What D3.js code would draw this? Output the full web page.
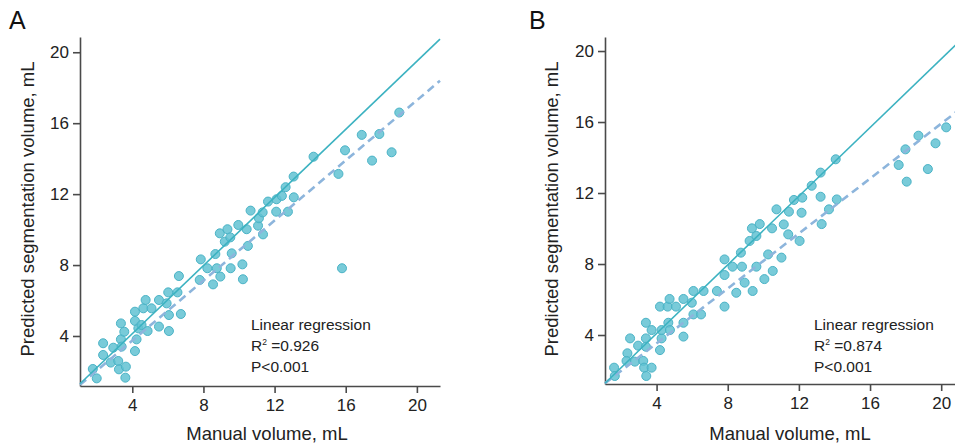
<!DOCTYPE html>
<html>
<head>
<meta charset="utf-8">
<script src="https://cdn.jsdelivr.net/npm/d3@7"></script>
<style>
  body { margin: 0; background: #fff; }
  text { font-family: "Liberation Sans", Arial, sans-serif; }
</style>
</head>
<body>
<div id="chart"></div>
<script>
// panel A: manual vs predicted volume (mL)
var manualA = [1.78, 2.00, 2.36, 2.36, 2.79, 2.93, 3.21, 3.25, 3.36, 3.36, 3.55, 3.64, 3.61, 3.40,
  4.15, 4.15, 4.15, 4.24, 4.34, 4.52, 4.62, 4.75, 4.86, 5.08, 5.50, 5.50, 5.93, 6.02, 6.06, 6.06,
  6.54, 6.62, 6.73, 7.79, 7.85, 8.22, 8.54, 8.67, 8.75, 8.92, 8.95, 9.20, 9.35, 9.51, 9.59, 9.53,
  9.96, 10.19, 10.22, 10.43, 10.50, 10.65, 11.07, 11.12, 11.33, 11.35, 11.63, 12.09, 12.11, 12.41,
  12.62, 12.75, 13.07, 13.08, 14.19, 15.59, 15.79, 15.96, 16.90, 17.48, 17.89, 18.58, 19.01];
var predA = [2.14, 1.61, 3.59, 2.93, 2.50, 3.34, 2.59, 2.12, 4.71, 3.81, 4.24, 2.27, 1.65, 3.40,
  3.15, 5.37, 4.85, 3.81, 4.43, 4.62, 5.56, 6.03, 4.28, 5.56, 6.03, 4.53, 5.84, 6.46, 5.18, 4.28,
  6.46, 7.38, 5.24, 7.16, 8.32, 7.82, 6.91, 8.62, 7.82, 9.79, 7.35, 9.32, 10.02, 9.56, 8.66, 7.82,
  10.26, 8.04, 7.20, 10.02, 9.08, 11.07, 10.22, 10.64, 10.97, 9.73, 11.58, 11.01, 11.71, 11.90,
  12.39, 11.01, 12.99, 11.82, 14.11, 13.14, 7.82, 14.47, 15.34, 13.89, 15.39, 14.36, 16.60];

// panel B
var manualB = [1.61, 1.65, 2.51, 2.36, 2.31, 2.78, 2.96, 3.25, 3.30, 3.40, 3.40, 3.40, 3.42, 3.72,
  3.72, 4.19, 4.19, 4.28, 4.28, 4.62, 4.66, 4.73, 4.75, 5.09, 5.51, 5.51, 5.51, 5.98, 6.07, 6.07,
  6.50, 6.64, 7.39, 7.82, 7.82, 7.82, 8.27, 8.48, 8.74, 8.80, 8.95, 9.23, 9.36, 9.40, 9.61, 9.61,
  9.80, 10.06, 10.27, 10.49, 10.53, 10.74, 11.02, 11.15, 11.40, 11.44, 11.72, 12.04, 12.15, 12.19,
  12.72, 13.22, 13.22, 13.28, 13.69, 14.07, 14.13, 17.61, 17.99, 18.06, 18.72, 19.25, 19.68, 20.28];
var predB = [2.16, 1.69, 3.81, 2.97, 2.54, 2.50, 3.40, 2.54, 2.16, 4.69, 3.81, 3.34, 1.69, 2.16,
  4.28, 3.15, 5.60, 3.81, 4.28, 5.60, 4.69, 6.03, 4.28, 5.60, 6.03, 4.69, 3.91, 5.82, 6.48, 5.16,
  5.16, 6.48, 6.48, 8.26, 7.38, 5.60, 7.85, 6.38, 8.64, 7.85, 6.95, 9.30, 10.01, 6.48, 9.58, 7.85,
  10.25, 7.15, 8.54, 10.01, 7.61, 11.08, 8.36, 10.23, 9.67, 10.95, 11.61, 9.30, 10.89, 11.74,
  12.41, 13.15, 11.79, 10.25, 11.08, 13.90, 11.64, 13.58, 14.46, 12.64, 15.23, 13.35, 14.80, 15.70];

// fitted lines [slope, intercept]
var solidA = [0.96, 0.29], dashA = [0.847, 0.35];
var solidB = [0.967, 0.22], dashB = [0.774, 0.43];

var ticks = [4, 8, 12, 16, 20];
var statsA = ["Linear regression", "0.926", "P<0.001"];
var statsB = ["Linear regression", "0.874", "P<0.001"];

var width = 955, height = 447;
var dotFill = "#62c2d2", dotStroke = "#4ab3c6";

var svg = d3.select("#chart").append("svg")
  .attr("width", width)
  .attr("height", height);

function panel(opt) {
  var x = d3.scaleLinear().domain(opt.xDomain).range(opt.xRange);
  var y = d3.scaleLinear().domain(opt.yDomain).range(opt.yRange);
  var g = svg.append("g");

  var data = opt.xs.map(function(v, i) { return {x: v, y: opt.ys[i]}; });

  // axes
  var xAxis = g.append("g")
    .attr("transform", "translate(0," + opt.yRange[0] + ")")
    .call(d3.axisBottom(x).tickValues(ticks).tickSize(7).tickSizeOuter(0).tickPadding(6));
  var yAxis = g.append("g")
    .attr("transform", "translate(" + opt.xRange[0] + ",0)")
    .call(d3.axisLeft(y).tickValues(ticks).tickSize(7).tickSizeOuter(0).tickPadding(4));
  [xAxis, yAxis].forEach(function(a) {
    a.select(".domain").attr("stroke", "#4a4a4a").attr("stroke-width", 1.6);
    a.selectAll(".tick line").attr("stroke", "#4a4a4a").attr("stroke-width", 1.6);
    a.selectAll(".tick text").attr("fill", "#222").style("font-size", "17px");
  });

  // points
  g.append("g").selectAll("circle").data(data).enter()
    .append("circle")
    .attr("cx", function(d) { return x(d.x); })
    .attr("cy", function(d) { return y(d.y); })
    .attr("r", 4.5)
    .attr("fill", dotFill)
    .attr("fill-opacity", 0.85)
    .attr("stroke", dotStroke)
    .attr("stroke-width", 1);

  // lines
  var x0 = opt.xDomain[0], x1 = opt.xDomain[1];
  function fit(p) { return [[x0, p[0] * x0 + p[1]], [x1, p[0] * x1 + p[1]]]; }
  var line = d3.line().x(function(d) { return x(d[0]); }).y(function(d) { return y(d[1]); });

  g.append("path").attr("d", line(fit(opt.dash)))
    .attr("fill", "none").attr("stroke", "#8db5dc")
    .attr("stroke-width", 2.6).attr("stroke-dasharray", "8,5");
  g.append("path").attr("d", line(fit(opt.solid)))
    .attr("fill", "none").attr("stroke", "#3cb2c1").attr("stroke-width", 1.6);

  // axis titles
  g.append("text")
    .attr("x", opt.xTitleX).attr("y", 440)
    .attr("text-anchor", "middle")
    .style("font-size", "18.5px").attr("fill", "#222")
    .text("Manual volume, mL");
  g.append("text")
    .attr("transform", "translate(" + opt.yTitleX + ",209) rotate(-90)")
    .attr("text-anchor", "middle")
    .style("font-size", "18.5px").attr("fill", "#222")
    .text("Predicted segmentation volume, mL");

  // panel letter
  g.append("text")
    .attr("x", opt.letterX).attr("y", 29)
    .style("font-size", "25px").attr("fill", "#111")
    .text(opt.letter);

  // stats
  var s = g.append("g").attr("transform", "translate(" + opt.statX + ",0)")
    .style("font-size", "15.5px").attr("fill", "#222");
  s.append("text").attr("y", 330).text(opt.stats[0]);
  var r2 = s.append("text").attr("y", 351);
  r2.append("tspan").text("R");
  r2.append("tspan").attr("dy", -6).style("font-size", "8.5px").text("2");
  r2.append("tspan").attr("dy", 6).text(" =" + opt.stats[1]);
  s.append("text").attr("y", 372).text(opt.stats[2]);
}

panel({
  xs: manualA, ys: predA, solid: solidA, dash: dashA, stats: statsA,
  xDomain: [1.06, 21.3], xRange: [80, 440],
  yDomain: [1.18, 20.86], yRange: [386, 37],
  xTitleX: 267, yTitleX: 34, letterX: 9, letter: "A", statX: 251
});

panel({
  xs: manualB, ys: predB, solid: solidB, dash: dashB, stats: statsB,
  xDomain: [1.1, 21.9], xRange: [605, 975],
  yDomain: [1.24, 20.79], yRange: [384, 37],
  xTitleX: 790, yTitleX: 558, letterX: 529, letter: "B", statX: 814
});
</script>
</body>
</html>
